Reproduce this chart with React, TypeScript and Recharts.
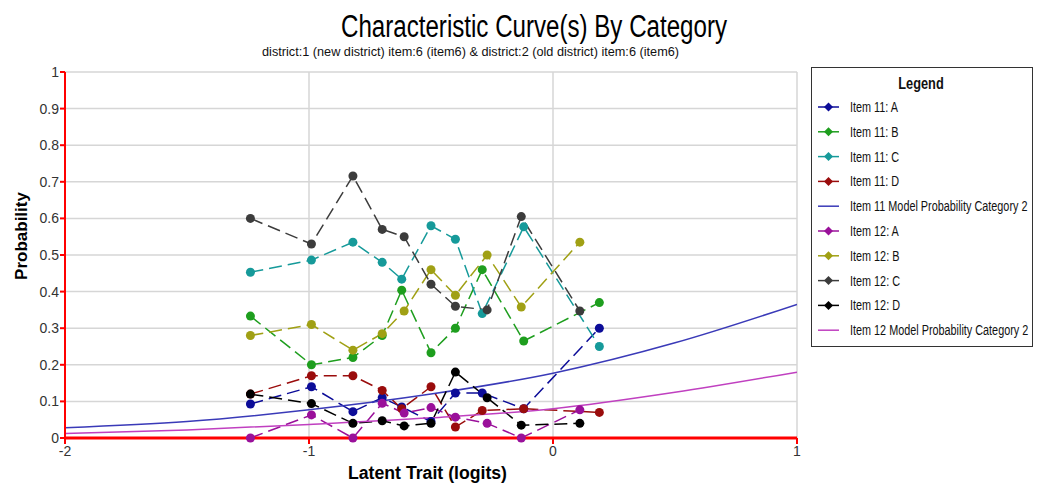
import React from 'react';
import { LineChart, Line, XAxis, YAxis, CartesianGrid } from 'recharts';

// x positions (logits) of the observed groups
const item11X = [-1.24, -0.99, -0.82, -0.7, -0.62, -0.5, -0.4, -0.29, -0.12, 0.19];
const item12X = [-1.24, -0.99, -0.82, -0.7, -0.61, -0.5, -0.4, -0.27, -0.13, 0.11];
const modelX = [-2, -1.5, -1, -0.5, 0, 0.5, 1];

// observed proportions per category
const item11A = [0.093, 0.14, 0.072, 0.11, 0.085, 0.045, 0.123, 0.123, 0.08, 0.3];
const item11B = [0.333, 0.2, 0.22, 0.28, 0.404, 0.233, 0.3, 0.46, 0.265, 0.37];
const item11C = [0.453, 0.486, 0.535, 0.48, 0.434, 0.58, 0.543, 0.34, 0.577, 0.25];
const item11D = [0.12, 0.17, 0.17, 0.13, 0.08, 0.14, 0.03, 0.075, 0.08, 0.07];
const item12A = [0.0, 0.063, 0.0, 0.095, 0.068, 0.083, 0.057, 0.04, 0.0, 0.077];
const item12B = [0.28, 0.31, 0.24, 0.285, 0.347, 0.46, 0.39, 0.5, 0.358, 0.535];
const item12C = [0.6, 0.53, 0.716, 0.57, 0.55, 0.42, 0.36, 0.35, 0.605, 0.347];
const item12D = [0.12, 0.094, 0.04, 0.047, 0.033, 0.04, 0.18, 0.11, 0.035, 0.04];

// model curves read at a few points
const model11 = [0.028, 0.045, 0.077, 0.12, 0.177, 0.26, 0.365];
const model12 = [0.012, 0.022, 0.037, 0.055, 0.08, 0.125, 0.18];

const yTicks = [0, 0.1, 0.2, 0.3, 0.4, 0.5, 0.6, 0.7, 0.8, 0.9, 1];
const xTicks = [-2, -1, 0, 1];

const FONT = '"Liberation Sans", Arial, sans-serif';

const toPoints = (xs: number[], ys: number[]) => xs.map((x, i) => ({ x, y: ys[i] }));

interface Series {
  name: string;
  color: string;
  data: { x: number; y: number }[];
  model: boolean;
}

const series: Series[] = [
  { name: 'Item 11: A', color: '#0c0c98', data: toPoints(item11X, item11A), model: false },
  { name: 'Item 11: B', color: '#1e9e1e', data: toPoints(item11X, item11B), model: false },
  { name: 'Item 11: C', color: '#169a9a', data: toPoints(item11X, item11C), model: false },
  { name: 'Item 11: D', color: '#9a0c0c', data: toPoints(item11X, item11D), model: false },
  { name: 'Item 11 Model Probability Category 2', color: '#3a3ab8', data: toPoints(modelX, model11), model: true },
  { name: 'Item 12: A', color: '#9a109a', data: toPoints(item12X, item12A), model: false },
  { name: 'Item 12: B', color: '#a0a014', data: toPoints(item12X, item12B), model: false },
  { name: 'Item 12: C', color: '#3c3c3c', data: toPoints(item12X, item12C), model: false },
  { name: 'Item 12: D', color: '#000000', data: toPoints(item12X, item12D), model: false },
  { name: 'Item 12 Model Probability Category 2', color: '#c040c0', data: toPoints(modelX, model12), model: true },
];

const Overlay = () => (
  <svg
    width={1037}
    height={483}
    style={{ position: 'absolute', left: 0, top: 0, pointerEvents: 'none' }}
  >
    <text x={341} y={37} fontSize={31} fontFamily={FONT} fill="#000" textLength={386} lengthAdjust="spacingAndGlyphs">
      Characteristic Curve(s) By Category
    </text>
    <text x={262} y={56} fontSize={12} fontFamily={FONT} fill="#111" textLength={417} lengthAdjust="spacingAndGlyphs">
      district:1 (new district) item:6 (item6) &amp; district:2 (old district) item:6 (item6)
    </text>
    <text
      transform="translate(27 236) rotate(-90)"
      textAnchor="middle"
      fontSize={17}
      fontWeight="bold"
      fontFamily={FONT}
      fill="#000"
    >
      Probability
    </text>
    <text x={348} y={479} fontSize={18} fontWeight="bold" fontFamily={FONT} fill="#000" textLength={159} lengthAdjust="spacingAndGlyphs">
      Latent Trait (logits)
    </text>

    {/* legend */}
    <rect x={811.5} y={67.5} width={221} height={279} fill="#fff" stroke="#333" strokeWidth={1} />
    <text transform="translate(921 89) scale(0.8 1)" textAnchor="middle" fontSize={16} fontWeight="bold" fontFamily={FONT} fill="#111">
      Legend
    </text>
    {series.map((s, i) => {
      const y = 107 + i * 24.8;
      return (
        <g key={s.name}>
          <line x1={818} x2={839} y1={y} y2={y} stroke={s.color} strokeWidth={1.5} />
          {!s.model && (
            <path d={`M828.5 ${y - 4.5} L833 ${y} L828.5 ${y + 4.5} L824 ${y} Z`} fill={s.color} />
          )}
          <text transform={`translate(850 ${y + 5}) scale(0.7 1)`} fontSize={15.5} fontFamily={FONT} fill="#111">
            {s.name}
          </text>
        </g>
      );
    })}
  </svg>
);

export default function App() {
  return (
    <div style={{ position: 'absolute', left: 0, top: 0, width: 1037, height: 483, background: '#fff' }}>
      <LineChart width={1037} height={483} margin={{ top: 72, right: 240, bottom: 25, left: 20 }}>
        <CartesianGrid stroke="#d6d6d6" strokeWidth={1.5} />
        <XAxis
          type="number"
          dataKey="x"
          domain={[-2, 1]}
          ticks={xTicks}
          interval={0}
          allowDataOverflow
          height={20}
          axisLine={{ stroke: '#ff0000', strokeWidth: 3 }}
          tickLine={{ stroke: '#ff0000', strokeWidth: 2 }}
          tickSize={6}
          tick={{ fontSize: 14, fill: '#333', fontFamily: FONT }}
        />
        <YAxis
          type="number"
          dataKey="y"
          domain={[0, 1]}
          ticks={yTicks}
          interval={0}
          width={45}
          axisLine={{ stroke: '#ff0000', strokeWidth: 2 }}
          tickLine={{ stroke: '#ff0000', strokeWidth: 2 }}
          tickSize={5}
          tickMargin={1}
          tickFormatter={(v: number) => String(Math.round(v * 10) / 10)}
          tick={{ fontSize: 14, fill: '#333', fontFamily: FONT }}
        />
        {series.map((s) =>
          s.model ? (
            <Line
              key={s.name}
              data={s.data}
              dataKey="y"
              name={s.name}
              type="monotone"
              stroke={s.color}
              strokeWidth={1.5}
              dot={false}
              isAnimationActive={false}
            />
          ) : (
            <Line
              key={s.name}
              data={s.data}
              dataKey="y"
              name={s.name}
              type="linear"
              stroke={s.color}
              strokeWidth={1.5}
              strokeDasharray="13 6"
              dot={{ r: 4.5, fill: s.color, stroke: s.color, strokeWidth: 0 }}
              isAnimationActive={false}
            />
          )
        )}
      </LineChart>
      <Overlay />
    </div>
  );
}
